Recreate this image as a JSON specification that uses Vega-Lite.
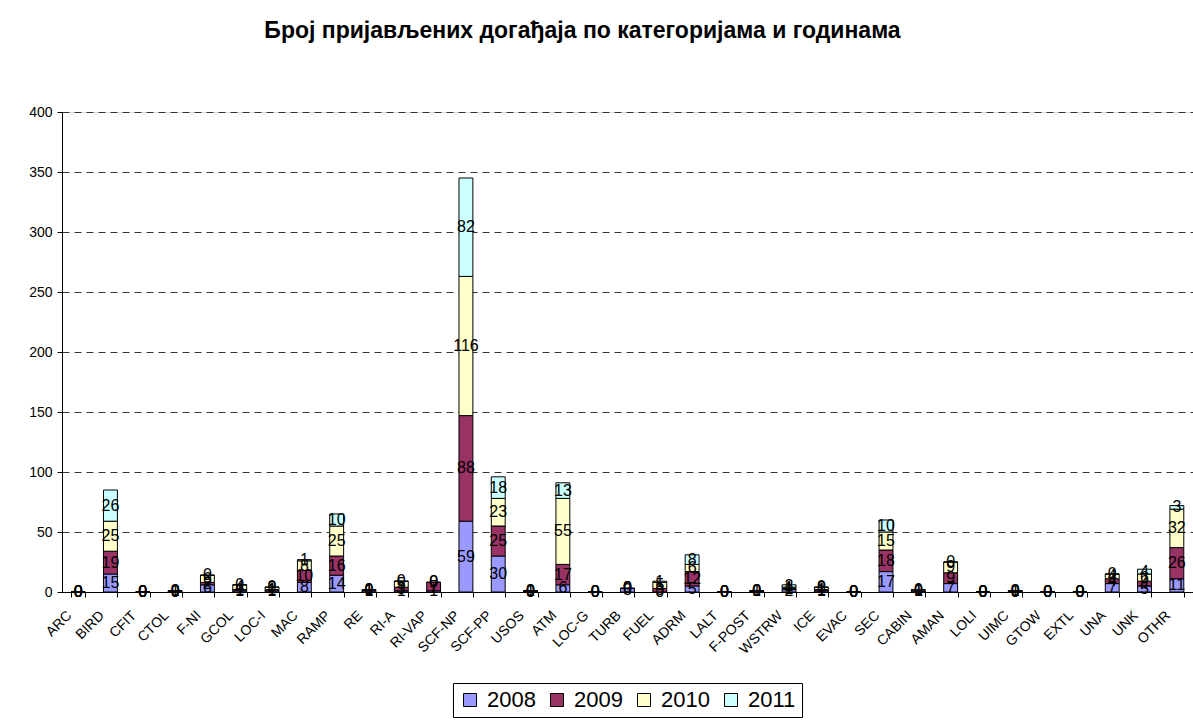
{
  "$schema": "https://vega.github.io/schema/vega-lite/v6.json",
  "autosize": {"type": "none"},
  "padding": {"left": 62, "top": 112, "right": 0, "bottom": 129},
  "width": 1131,
  "height": 480,
  "background": "white",
  "title": {
    "text": "Број пријављених догађаја по категоријама и годинама",
    "font": "Liberation Sans",
    "fontSize": 23,
    "fontWeight": "bold",
    "color": "black",
    "anchor": "middle",
    "offset": 62,
    "dx": -45
  },
  "data": {
    "values": [
      {"cat": "ARC", "2008": 0, "2009": 0, "2010": 0, "2011": 0},
      {"cat": "BIRD", "2008": 15, "2009": 19, "2010": 25, "2011": 26},
      {"cat": "CFIT", "2008": 0, "2009": 0, "2010": 0, "2011": 0},
      {"cat": "CTOL", "2008": 0, "2009": 1, "2010": 0, "2011": 0},
      {"cat": "F-NI", "2008": 6, "2009": 2, "2010": 6, "2011": 0},
      {"cat": "GCOL", "2008": 1, "2009": 1, "2010": 4, "2011": 0},
      {"cat": "LOC-I", "2008": 1, "2009": 1, "2010": 2, "2011": 0},
      {"cat": "MAC", "2008": 8, "2009": 10, "2010": 8, "2011": 1},
      {"cat": "RAMP", "2008": 14, "2009": 16, "2010": 25, "2011": 10},
      {"cat": "RE", "2008": 1, "2009": 1, "2010": 0, "2011": 0},
      {"cat": "RI-A", "2008": 1, "2009": 3, "2010": 5, "2011": 0},
      {"cat": "RI-VAP", "2008": 1, "2009": 7, "2010": 0, "2011": 0},
      {"cat": "SCF-NP", "2008": 59, "2009": 88, "2010": 116, "2011": 82},
      {"cat": "SCF-PP", "2008": 30, "2009": 25, "2010": 23, "2011": 18},
      {"cat": "USOS", "2008": 0, "2009": 1, "2010": 0, "2011": 0},
      {"cat": "ATM", "2008": 6, "2009": 17, "2010": 55, "2011": 13},
      {"cat": "LOC-G", "2008": 0, "2009": 0, "2010": 0, "2011": 0},
      {"cat": "TURB", "2008": 3, "2009": 0, "2010": 0, "2011": 0},
      {"cat": "FUEL", "2008": 0, "2009": 3, "2010": 5, "2011": 1},
      {"cat": "ADRM", "2008": 5, "2009": 12, "2010": 6, "2011": 8},
      {"cat": "LALT", "2008": 0, "2009": 0, "2010": 0, "2011": 0},
      {"cat": "F-POST", "2008": 1, "2009": 0, "2010": 0, "2011": 0},
      {"cat": "WSTRW", "2008": 2, "2009": 1, "2010": 1, "2011": 2},
      {"cat": "ICE", "2008": 1, "2009": 1, "2010": 2, "2011": 0},
      {"cat": "EVAC", "2008": 0, "2009": 0, "2010": 0, "2011": 0},
      {"cat": "SEC", "2008": 17, "2009": 18, "2010": 15, "2011": 10},
      {"cat": "CABIN", "2008": 1, "2009": 0, "2010": 1, "2011": 0},
      {"cat": "AMAN", "2008": 7, "2009": 9, "2010": 9, "2011": 0},
      {"cat": "LOLI", "2008": 0, "2009": 0, "2010": 0, "2011": 0},
      {"cat": "UIMC", "2008": 0, "2009": 1, "2010": 0, "2011": 0},
      {"cat": "GTOW", "2008": 0, "2009": 0, "2010": 0, "2011": 0},
      {"cat": "EXTL", "2008": 0, "2009": 0, "2010": 0, "2011": 0},
      {"cat": "UNA", "2008": 7, "2009": 4, "2010": 4, "2011": 0},
      {"cat": "UNK", "2008": 5, "2009": 4, "2010": 6, "2011": 4},
      {"cat": "OTHR", "2008": 11, "2009": 26, "2010": 32, "2011": 3}
    ]
  },
  "transform": [
    {"fold": ["2008", "2009", "2010", "2011"], "as": ["year", "v"]},
    {"stack": "v", "groupby": ["cat"], "sort": [{"field": "year", "order": "ascending"}], "as": ["v0", "v1"]},
    {"calculate": "(datum.v0 + datum.v1) / 2", "as": "mid"}
  ],
  "encoding": {
    "x": {
      "field": "cat",
      "type": "nominal",
      "sort": null,
      "title": null,
      "scale": {"paddingInner": 0.57, "paddingOuter": 0.285},
      "axis": {
        "labelAngle": -45,
        "labelAlign": "right",
        "labelBaseline": "middle",
        "labelFont": "Liberation Sans",
        "labelFontSize": 14,
        "labelColor": "black",
        "labelPadding": 16,
        "labelOffset": -9,
        "tickBand": "extent",
        "tickColor": "black",
        "tickSize": 5,
        "domainColor": "black",
        "grid": false
      }
    }
  },
  "layer": [
    {
      "mark": {"type": "bar", "stroke": "black", "strokeWidth": 1},
      "encoding": {
        "y": {
          "field": "v0",
          "type": "quantitative",
          "title": null,
          "scale": {"domain": [0, 400], "nice": false},
          "axis": {
            "values": [0, 50, 100, 150, 200, 250, 300, 350, 400],
            "labelFont": "Liberation Sans",
            "labelFontSize": 14,
            "labelColor": "black",
            "labelPadding": 5,
            "tickColor": "black",
            "tickSize": 5,
            "domainColor": "black",
            "grid": true,
            "gridColor": "#333333",
            "gridDash": [7, 5],
            "gridWidth": 1
          }
        },
        "y2": {"field": "v1"},
        "color": {
          "field": "year",
          "type": "nominal",
          "scale": {"domain": ["2008", "2009", "2010", "2011"], "range": ["#9999FF", "#993366", "#FFFFCC", "#CCFFFF"]},
          "legend": {
            "title": null,
            "orient": "none",
            "legendX": 391,
            "legendY": 571,
            "direction": "horizontal",
            "strokeColor": "black",
            "padding": 6,
            "symbolType": "square",
            "symbolSize": 169,
            "symbolStrokeColor": "black",
            "symbolStrokeWidth": 1,
            "symbolOpacity": 1,
            "labelFont": "Liberation Sans",
            "labelFontSize": 22,
            "labelOffset": 6,
            "labelColor": "black",
            "columnPadding": 10
          }
        }
      }
    },
    {
      "mark": {"type": "text", "font": "Liberation Sans", "fontSize": 16, "color": "black", "baseline": "middle", "align": "center"},
      "encoding": {
        "y": {"field": "mid", "type": "quantitative"},
        "text": {"field": "v", "type": "quantitative"}
      }
    }
  ]
}
